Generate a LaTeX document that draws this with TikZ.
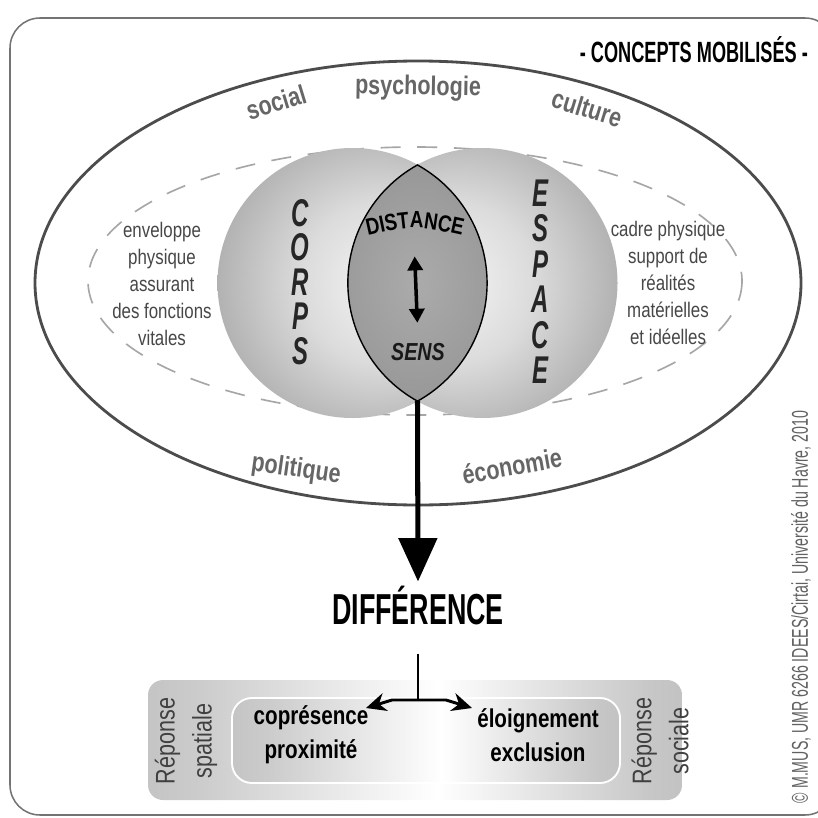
\documentclass[tikz,border=0pt]{standalone}
\usepackage{fontspec}
\setmainfont[FakeStretch=0.62]{Liberation Sans}
\newfontfamily\midcond[FakeStretch=0.8]{Liberation Sans}
\usetikzlibrary{arrows.meta,decorations.text}
% shadings for the two spheres, the lens and the bottom bar
\pgfdeclareradialshading{ballL}{\pgfpoint{8bp}{0bp}}{color(0bp)=(black!3); color(15bp)=(black!14); color(35bp)=(black!38); color(50bp)=(black!52)}
\pgfdeclareradialshading{ballR}{\pgfpoint{-8bp}{0bp}}{color(0bp)=(black!3); color(15bp)=(black!14); color(35bp)=(black!38); color(50bp)=(black!52)}
\pgfdeclareradialshading{lensshade}{\pgfpoint{0bp}{0bp}}{color(0bp)=(black!33); color(30bp)=(black!42); color(50bp)=(black!58)}
\pgfdeclarehorizontalshading{metal}{100bp}{color(0bp)=(black!38); color(30bp)=(black!20); color(52bp)=(white); color(72bp)=(black!22); color(100bp)=(black!38)}
\newcommand{\lensfont}{\midcond\bfseries\fontsize{20}{22}\selectfont}
\tikzset{
  title/.style={font=\bfseries\fontsize{25}{27}\selectfont},
  bigletter/.style={font=\bfseries\itshape\fontsize{33}{35}\selectfont, text=black!85},
  lenslabel/.style={font=\midcond\bfseries\itshape\fontsize{21}{23}\selectfont, text=black!90},
  field/.style={font=\midcond\bfseries\fontsize{23}{25}\selectfont, text=black!60},
  desc/.style={font=\midcond\fontsize{18}{23}\selectfont, text=black!72, align=center},
  answer/.style={font=\midcond\bfseries\fontsize{22}{29}\selectfont, align=center},
  reponse/.style={font=\midcond\fontsize{23}{31.5}\selectfont, text=black!75, align=center, rotate=90},
  bigarrow/.style={line width=4.3pt, -{Triangle[length=1.3cm, width=1.14cm]}},
  dblarrow/.style={line width=3pt, {Triangle[length=0.42cm, width=0.45cm]}-{Triangle[length=0.42cm, width=0.45cm]}},
  forkarrow/.style={line width=2.5pt, -{Stealth[length=0.6cm, width=0.55cm]}},
}
\begin{document}
\begin{tikzpicture}[x=0.03cm, y=-0.03cm]
  \useasboundingbox (0,0) rectangle (817,818);
  \fill[white] (0,0) rectangle (817,818);
  % frame
  \draw[black!55, line width=1.3pt, rounded corners=0.9cm] (10,18) rectangle (835,815);
  \node[title, anchor=east] (concepts) at (812,50) {- CONCEPTS MOBILISÉS -};
  % outer ellipse and dashed ring
  \draw[black!70, line width=2.4pt] (418,283) ellipse [x radius=383, y radius=222];
  \draw[black!35, line width=1.4pt, dash pattern=on 0.6cm off 0.5cm] (415,281) ellipse [x radius=327, y radius=134];
  % define points
  \coordinate (corpsc) at (352.5,283);
  \coordinate (espacec) at (482.5,283);
  \coordinate (lenstop) at (417.5,165);
  \coordinate (lensbot) at (417.5,401);
  \coordinate (distance) at (414,240);
  % spheres
  \shade[shading=ballL] (corpsc) circle (135);
  \shade[shading=ballR] (espacec) circle (135);
  % lens
  \shade[shading=lensshade, draw=black, line width=1.2pt] (lenstop)
    arc[start angle=-61, end angle=61, radius=135]
    arc[start angle=118.97, end angle=241.03, radius=135] -- cycle;
  % vertical words
  \foreach \l [count=\i] in {C,O,R,P,S}
    \node[bigletter] (corps\i) at (300,213+34.5*\i-34.5) {\l};
  \foreach \l [count=\i] in {E,S,P,A,C,E}
    \node[bigletter] (espace\i) at (540,193+35.5*\i-35.5) {\l};
  \path[decorate, decoration={text along path, text align=center,
      text={|\lensfont|DISTANCE}}] (362,237) .. controls (415,225) .. (468,237);
  \node[lenslabel] (sens) at (418,352) {SENS};
  \draw[dblarrow, shorten <=14pt, shorten >=14pt] (distance) -- (sens.north);
  % fields on the ellipse
  \node[field, rotate=17] (social) at (276,102) {social};
  \node[field, rotate=-1] (psycho) at (418,88) {psychologie};
  \node[field, rotate=-17] (culture) at (587,108) {culture};
  \node[field, rotate=-8] (politique) at (296,470) {politique};
  \node[field, rotate=10] (economie) at (512,466) {économie};
  % descriptions
  \node[desc] (corpsdesc) at (162,284) {enveloppe\\physique\\assurant\\des fonctions\\vitales};
  \node[desc] (espacedesc) at (668,283) {cadre physique\\support de\\réalités\\matérielles\\et idéelles};
  % difference
  \node[font=\bfseries\fontsize{37}{39}\selectfont] (difference) at (418,605) {DIFFÉRENCE};
  \draw[bigarrow] (lensbot) -- (difference.north);
  % answers
  \shade[shading=metal, rounded corners=0.45cm] (148,680) rectangle (682,800);
  \shade[shading=metal, draw=white, line width=1.6pt, rounded corners=0.6cm] (232,698) rectangle (620,783);
  \node[answer] (copres) at (311,735) {coprésence\\proximité};
  \node[answer] (eloign) at (538,735) {éloignement\\exclusion};
  \node[reponse] (spatiale) at (186,741) {Réponse\\spatiale};
  \node[reponse] (sociale) at (660,741) {Réponse\\sociale};
  \coordinate (fork) at (418,700);
  \draw[line width=2.5pt, shorten <=22pt] (difference.south) -- (fork);
  \draw[forkarrow] (fork) -- (392,700) -- (366,708);
  \draw[forkarrow] (fork) -- (446,700) -- (472,708);
  % credit
  \node[font=\fontsize{19.5}{21}\selectfont, text=black!62, rotate=90] (credit) at (801,607) {\textcopyright{} M.MUS, UMR 6266 IDEES/Cirtai, Université du Havre, 2010};
\end{tikzpicture}
\end{document}
